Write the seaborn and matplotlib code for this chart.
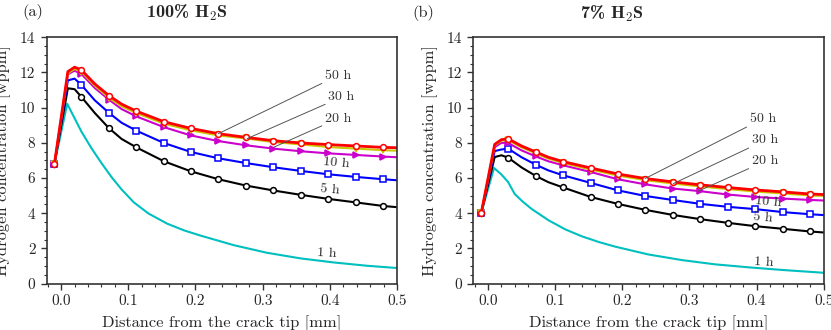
import numpy as np
import pandas as pd
import matplotlib
matplotlib.use("Agg")
import matplotlib.pyplot as plt
from matplotlib.ticker import MultipleLocator, FormatStrFormatter
import seaborn as sns

# ---------------- data ----------------
x_grid = [-0.01, 0.01, 0.02, 0.03, 0.05, 0.071, 0.09, 0.112, 0.153, 0.193, 0.234, 0.275,
          0.316, 0.357, 0.398, 0.439, 0.479, 0.5]
marker_idx = [0, 3, 5, 7, 8, 9, 10, 11, 12, 13, 14, 15, 16]

# 100% H2S
a_50h = [6.8, 12.05, 12.3, 12.15, 11.35, 10.69, 10.2, 9.80, 9.20, 8.82, 8.52, 8.31, 8.12, 7.99, 7.90, 7.82, 7.74, 7.72]
a_30h = [6.8, 11.95, 12.2, 12.05, 11.25, 10.56, 10.08, 9.69, 9.09, 8.71, 8.42, 8.25, 8.04, 7.91, 7.76, 7.67, 7.58, 7.55]
a_20h = [6.8, 11.9, 12.1, 11.92, 11.12, 10.46, 9.92, 9.50, 8.89, 8.42, 8.10, 7.86, 7.67, 7.52, 7.40, 7.31, 7.22, 7.18]
a_10h = [6.8, 11.55, 11.65, 11.3, 10.42, 9.71, 9.14, 8.69, 7.99, 7.48, 7.12, 6.85, 6.61, 6.40, 6.21, 6.06, 5.93, 5.87]
a_5h = [6.8, 11.1, 11.05, 10.62, 9.7, 8.84, 8.22, 7.74, 6.95, 6.38, 5.93, 5.57, 5.29, 5.04, 4.81, 4.61, 4.41, 4.34]
a_1h_x = [-0.01, 0.009, 0.02, 0.03, 0.045, 0.06, 0.075, 0.09, 0.108, 0.13, 0.158, 0.183,
          0.207, 0.257, 0.306, 0.356, 0.405, 0.455, 0.5]
a_1h = [6.8, 10.22, 9.4, 8.65, 7.7, 6.85, 6.05, 5.35, 4.62, 3.98, 3.40, 3.02,
        2.73, 2.18, 1.75, 1.43, 1.20, 1.01, 0.88]

# 7% H2S
b_50h = [4.0, 7.91, 8.18, 8.23, 7.82, 7.48, 7.18, 6.93, 6.57, 6.23, 5.97, 5.78, 5.61, 5.46, 5.32, 5.21, 5.09, 5.06]
b_30h = [4.0, 7.85, 8.12, 8.15, 7.74, 7.40, 7.10, 6.85, 6.48, 6.14, 5.88, 5.69, 5.52, 5.37, 5.23, 5.12, 5.01, 4.98]
b_20h = [4.0, 7.75, 8.0, 7.99, 7.57, 7.23, 6.95, 6.72, 6.34, 5.93, 5.64, 5.40, 5.25, 5.06, 4.92, 4.83, 4.75, 4.72]
b_10h = [4.0, 7.53, 7.62, 7.67, 7.18, 6.76, 6.43, 6.15, 5.72, 5.30, 4.98, 4.75, 4.53, 4.36, 4.23, 4.06, 3.94, 3.89]
b_5h = [4.0, 7.19, 7.29, 7.16, 6.6, 6.12, 5.76, 5.46, 4.92, 4.53, 4.19, 3.90, 3.66, 3.45, 3.26, 3.11, 2.96, 2.90]
b_1h_x = [-0.01, 0.009, 0.02, 0.030, 0.040, 0.052, 0.065, 0.090, 0.115, 0.140, 0.165, 0.189,
          0.239, 0.289, 0.338, 0.388, 0.438, 0.5]
b_1h = [4.0, 6.57, 6.2, 5.77, 5.08, 4.65, 4.24, 3.60, 3.08, 2.68, 2.36, 2.10,
        1.65, 1.33, 1.09, 0.92, 0.77, 0.61]

titles = ["100% H$_{\\mathbf{2}}$S", "7% H$_{\\mathbf{2}}$S"]
panel_tags = ["(a)", "(b)"]
time_labels = ["50 h", "30 h", "20 h", "10 h", "5 h", "1 h"]

# ---------------- style ----------------
sns.set_style("ticks")
plt.rcParams["font.family"] = ["cmr10", "DejaVu Serif"]
plt.rcParams["mathtext.fontset"] = "cm"
plt.rcParams["axes.formatter.use_mathtext"] = True
plt.rcParams["axes.unicode_minus"] = False

fig = plt.figure(figsize=(8.31, 3.30), dpi=100)
W, H = 831, 330
ax_a = fig.add_axes([46.5 / W, 46.5 / H, 350.5 / W, 246.2 / H])
ax_b = fig.add_axes([473.3 / W, 46.5 / H, 350.5 / W, 246.2 / H])

series_style = [
    # (color, marker, mfc, lw)
    ("#00bfbf", None, None, 1.5),     # 1 h
    ("#000000", "o", "white", 1.5),   # 5 h
    ("#0000ff", "s", "white", 1.5),   # 10 h
    ("#cc00cc", ">", "#cc00cc", 1.5), # 20 h
    ("#c8c800", "v", "#c8c800", 1.5), # 30 h
    ("#ff0000", "o", "white", 2.0),   # 50 h
]


def draw_panel(ax, x1, y1, ys):
    c, m, f, lw = series_style[0]
    sns.lineplot(x=x1, y=y1, ax=ax, color=c, lw=lw, estimator=None, sort=False)
    for (c, m, f, lw), y in zip(series_style[1:], ys):
        sns.lineplot(x=x_grid, y=y, ax=ax, color=c, lw=lw, marker=m,
                     markevery=marker_idx, markersize=4.2, markerfacecolor=f,
                     markeredgecolor=c, markeredgewidth=1.1,
                     estimator=None, sort=False)
    ax.set_xlim(-0.0218, 0.5)
    ax.set_ylim(0, 14)
    ax.xaxis.set_major_locator(MultipleLocator(0.1))
    ax.xaxis.set_minor_locator(MultipleLocator(0.02))
    ax.yaxis.set_major_locator(MultipleLocator(2))
    ax.yaxis.set_minor_locator(MultipleLocator(0.5))
    ax.xaxis.set_major_formatter(FormatStrFormatter("%.1f"))
    ax.yaxis.set_major_formatter(FormatStrFormatter("%d"))
    ax.tick_params(which="major", direction="out", length=4, width=1.0,
                   labelsize=11, color="#333333", pad=4)
    ax.tick_params(which="minor", direction="out", length=2.2, width=0.8,
                   color="#333333")
    for s in ax.spines.values():
        s.set_linewidth(1.2)
        s.set_color("#333333")
    ax.set_xlabel("Distance from the crack tip [mm]", fontsize=11.8, labelpad=5)
    ax.set_ylabel("Hydrogen concentration [wppm]", fontsize=11.8)
    ax.yaxis.set_label_coords(-0.1, 0.5)


draw_panel(ax_a, a_1h_x, a_1h, [a_5h, a_10h, a_20h, a_30h, a_50h])
draw_panel(ax_b, b_1h_x, b_1h, [b_5h, b_10h, b_20h, b_30h, b_50h])

arrow = dict(arrowstyle="-", color="#555555", lw=0.7, shrinkA=0, shrinkB=0)
fs_ann = 10

# panel (a) annotations
ann_a = [((0.234, 8.52), (0.393, 11.83)),
         ((0.277, 8.24), (0.398, 10.60)),
         ((0.316, 7.74), (0.393, 9.38))]
for lab, (xy, xt) in zip(time_labels[:3], ann_a):
    ax_a.annotate(lab, xy=xy, xytext=xt, arrowprops=arrow, ha="left",
                  va="center", fontsize=fs_ann, color="#333333")
ax_a.text(0.41, 6.85, time_labels[3], ha="center", va="center", fontsize=fs_ann,
          rotation=-5, color="#333333")
ax_a.text(0.40, 5.35, time_labels[4], ha="center", va="center", fontsize=fs_ann,
          rotation=-5, color="#333333")
ax_a.text(0.395, 1.71, time_labels[5], ha="center", va="center", fontsize=fs_ann,
          rotation=-3, color="#333333")

# panel (b) annotations
ann_b = [((0.234, 5.97), (0.390, 9.37)),
         ((0.276, 5.68), (0.393, 8.14)),
         ((0.313, 5.25), (0.393, 6.95))]
for lab, (xy, xt) in zip(time_labels[:3], ann_b):
    ax_b.annotate(lab, xy=xy, xytext=xt, arrowprops=arrow, ha="left",
                  va="center", fontsize=fs_ann, color="#333333")
ax_b.text(0.418, 4.62, time_labels[3], ha="center", va="center", fontsize=fs_ann,
          rotation=-5, color="#333333")
ax_b.text(0.41, 3.76, time_labels[4], ha="center", va="center", fontsize=fs_ann,
          rotation=-5, color="#333333")
ax_b.text(0.41, 1.2, time_labels[5], ha="center", va="center", fontsize=fs_ann,
          rotation=-3, color="#333333")

# titles and panel tags
fig.text(186.7 / W, 1 - 12.7 / H, titles[0], ha="center", va="center",
         fontsize=13, family="cmb10")
fig.text(611.7 / W, 1 - 14.0 / H, titles[1], ha="center", va="center",
         fontsize=13, family="cmb10")
fig.text(33.3 / W, 1 - 11.7 / H, panel_tags[0], ha="center", va="center", fontsize=11.8)
fig.text(423.3 / W, 1 - 13.3 / H, panel_tags[1], ha="center", va="center", fontsize=11.8)

fig.savefig("out.png", dpi=100)
